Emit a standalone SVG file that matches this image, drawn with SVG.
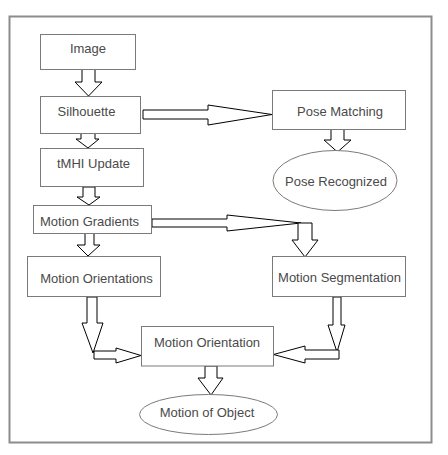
<svg xmlns="http://www.w3.org/2000/svg" width="448" height="455" viewBox="0 0 448 455">
<style>
.box{fill:#fff;stroke:#7a7a7a;stroke-width:1}
.lbl{font-family:"Liberation Sans",Arial,sans-serif;font-size:13px;fill:#4a4a4a;text-anchor:middle}
.arr{fill:#fff;stroke:#000;stroke-width:1;stroke-linejoin:miter}
</style>
<rect x="0" y="0" width="448" height="455" fill="#fff"/>
<rect x="9.5" y="16.5" width="422" height="426" fill="#fff" stroke="#8c8c8c" stroke-width="2"/>
<g id="connectors">
<polygon class="arr" points="82,69 95,69 95,82 102,82 88.5,96 75,82 82,82"/>
<polygon class="arr" points="81,133 95,133 95,139 99,139 88,148 76,139 81,139"/>
<polygon class="arr" points="83,187 95,187 95,197 100,197 89,205 77,197 83,197"/>
<polygon class="arr" points="85,233 94,233 94,245 100,245 88,256 77,245 85,245"/>
<polygon class="arr" points="143,110 208,110 208,105 272,114.5 208,125 208,119 143,119"/>
<polygon class="arr" points="331,129 344,129 344,140 351,140 337.5,152 324,140 331,140"/>
<polygon class="arr" points="152,219 227,219 227,215 301,223 227,231 227,227 152,227"/>
<polygon class="arr" points="298,223 312,223 312,240 318,240 305,257 292,240 298,240"/>
<polygon class="arr" points="87,297 97,297 97,323 103,323 93,353 82,323 87,323"/>
<polygon class="arr" points="94,351 116,351 116,348 141,355.5 116,363 116,359 94,359"/>
<polygon class="arr" points="333,297 341,297 341,325 345,325 337,352 328,325 333,325"/>
<polygon class="arr" points="339,350 339,359 305,359 305,363 273.5,354.5 305,346 305,350"/>
<polygon class="arr" points="205,366 217,366 217,378 223,378 211,395 198,378 205,378"/>
</g>
<g id="image"><rect class="box" x="40.5" y="34.5" width="95" height="35"/><text class="lbl" x="88" y="53">Image</text></g>
<g id="silhouette"><rect class="box" x="40.5" y="96.5" width="100" height="37"/><text class="lbl" x="86.5" y="116">Silhouette</text></g>
<g id="pose-matching"><rect class="box" x="272.5" y="90.5" width="133" height="39"/><text class="lbl" x="340" y="115.5">Pose Matching</text></g>
<g id="tmhi-update"><rect class="box" x="40.5" y="148.5" width="103" height="38"/><text class="lbl" x="93.5" y="167.5">tMHI Update</text></g>
<g id="pose-recognized"><ellipse class="box" cx="335" cy="180.5" rx="62" ry="30"/><text class="lbl" x="336" y="185.5">Pose Recognized</text></g>
<g id="motion-gradients"><rect class="box" x="33.5" y="205.5" width="118" height="28"/><text class="lbl" x="89.5" y="225.5">Motion Gradients</text></g>
<g id="motion-orientations"><rect class="box" x="27.5" y="256.5" width="133" height="40"/><text class="lbl" x="96.5" y="283">Motion Orientations</text></g>
<g id="motion-segmentation"><rect class="box" x="272.5" y="256.5" width="133" height="40"/><text class="lbl" x="339.5" y="282">Motion Segmentation</text></g>
<g id="motion-orientation"><rect class="box" x="141.5" y="326.5" width="132" height="39.5"/><text class="lbl" x="207" y="347">Motion Orientation</text></g>
<g id="motion-of-object"><ellipse class="box" cx="208.5" cy="414.5" rx="69" ry="20"/><text class="lbl" x="207" y="416.5">Motion of Object</text></g>
</svg>
